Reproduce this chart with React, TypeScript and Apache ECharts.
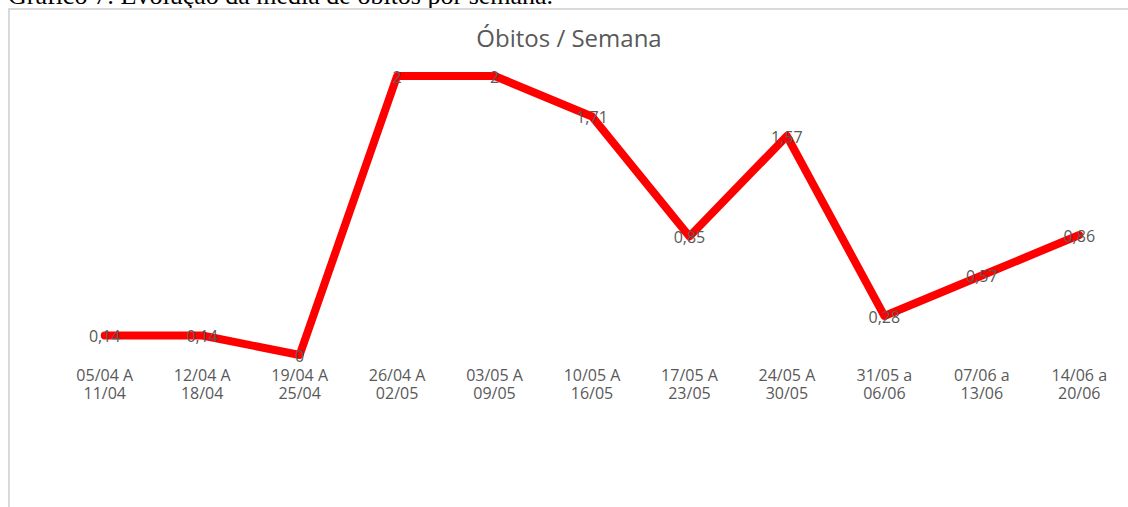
import React, { useEffect, useRef } from "react";
import * as echarts from "echarts";

const categories = [
  "05/04 A\n11/04",
  "12/04 A\n18/04",
  "19/04 A\n25/04",
  "26/04 A\n02/05",
  "03/05 A\n09/05",
  "10/05 A\n16/05",
  "17/05 A\n23/05",
  "24/05 A\n30/05",
  "31/05 a\n06/06",
  "07/06 a\n13/06",
  "14/06 a\n20/06",
];
const deaths = [0.14, 0.14, 0, 2, 2, 1.71, 0.85, 1.57, 0.28, 0.57, 0.86];
const chartTitle = "Óbitos / Semana";
const caption = "Gráfico 7: Evolução da média de óbitos por semana.";

export default function App() {
  const ref = useRef<HTMLDivElement>(null);
  useEffect(() => {
    if (!ref.current) return;
    const chart = echarts.init(ref.current, null, { renderer: "svg" });
    chart.setOption({
      animation: false,
      title: {
        text: chartTitle,
        left: "center",
        top: 10,
        textStyle: {
          fontFamily: "Open Sans",
          fontSize: 24,
          fontWeight: "normal",
          color: "#595959",
        },
      },
      grid: { left: 46, right: 0, top: 66, bottom: 152 },
      xAxis: {
        type: "category",
        data: categories,
        boundaryGap: true,
        axisLine: { show: false },
        axisTick: { show: false },
        axisLabel: {
          color: "#595959",
          fontFamily: "Open Sans",
          fontSize: 16,
          lineHeight: 18,
          margin: 11,
          interval: 0,
        },
      },
      yAxis: {
        type: "value",
        min: 0,
        max: 2,
        show: false,
        splitLine: { show: false },
      },
      series: [
        {
          type: "line",
          data: deaths,
          symbol: "circle",
          symbolSize: 1,
          showSymbol: true,
          lineStyle: { color: "#ff0000", width: 8, cap: "round", join: "round" },
          itemStyle: { color: "#ff0000" },
          label: {
            show: true,
            position: "inside",
            offset: [0, 1],
            color: "#595959",
            fontFamily: "Open Sans",
            fontSize: 16,
            formatter: (p: any) => String(p.value).replace(".", ","),
          },
        },
      ],
    });
    return () => chart.dispose();
  }, []);

  return (
    <div
      style={{
        position: "absolute",
        left: 0,
        top: 0,
        width: 1128,
        height: 507,
        overflow: "hidden",
        background: "#fff",
      }}
    >
      <div
        style={{
          position: "absolute",
          left: 8,
          top: -17,
          fontFamily: "Liberation Serif",
          fontSize: 26,
          lineHeight: "26px",
          color: "#000",
          whiteSpace: "nowrap",
        }}
      >
        {caption}
      </div>
      <div
        style={{
          position: "absolute",
          left: 8,
          top: 8,
          width: 1120,
          height: 499,
          borderLeft: "2px solid #d9d9d9",
          borderTop: "2px solid #d9d9d9",
          boxSizing: "border-box",
        }}
      >
        <div ref={ref} style={{ width: 1118, height: 497 }} />
      </div>
    </div>
  );
}
